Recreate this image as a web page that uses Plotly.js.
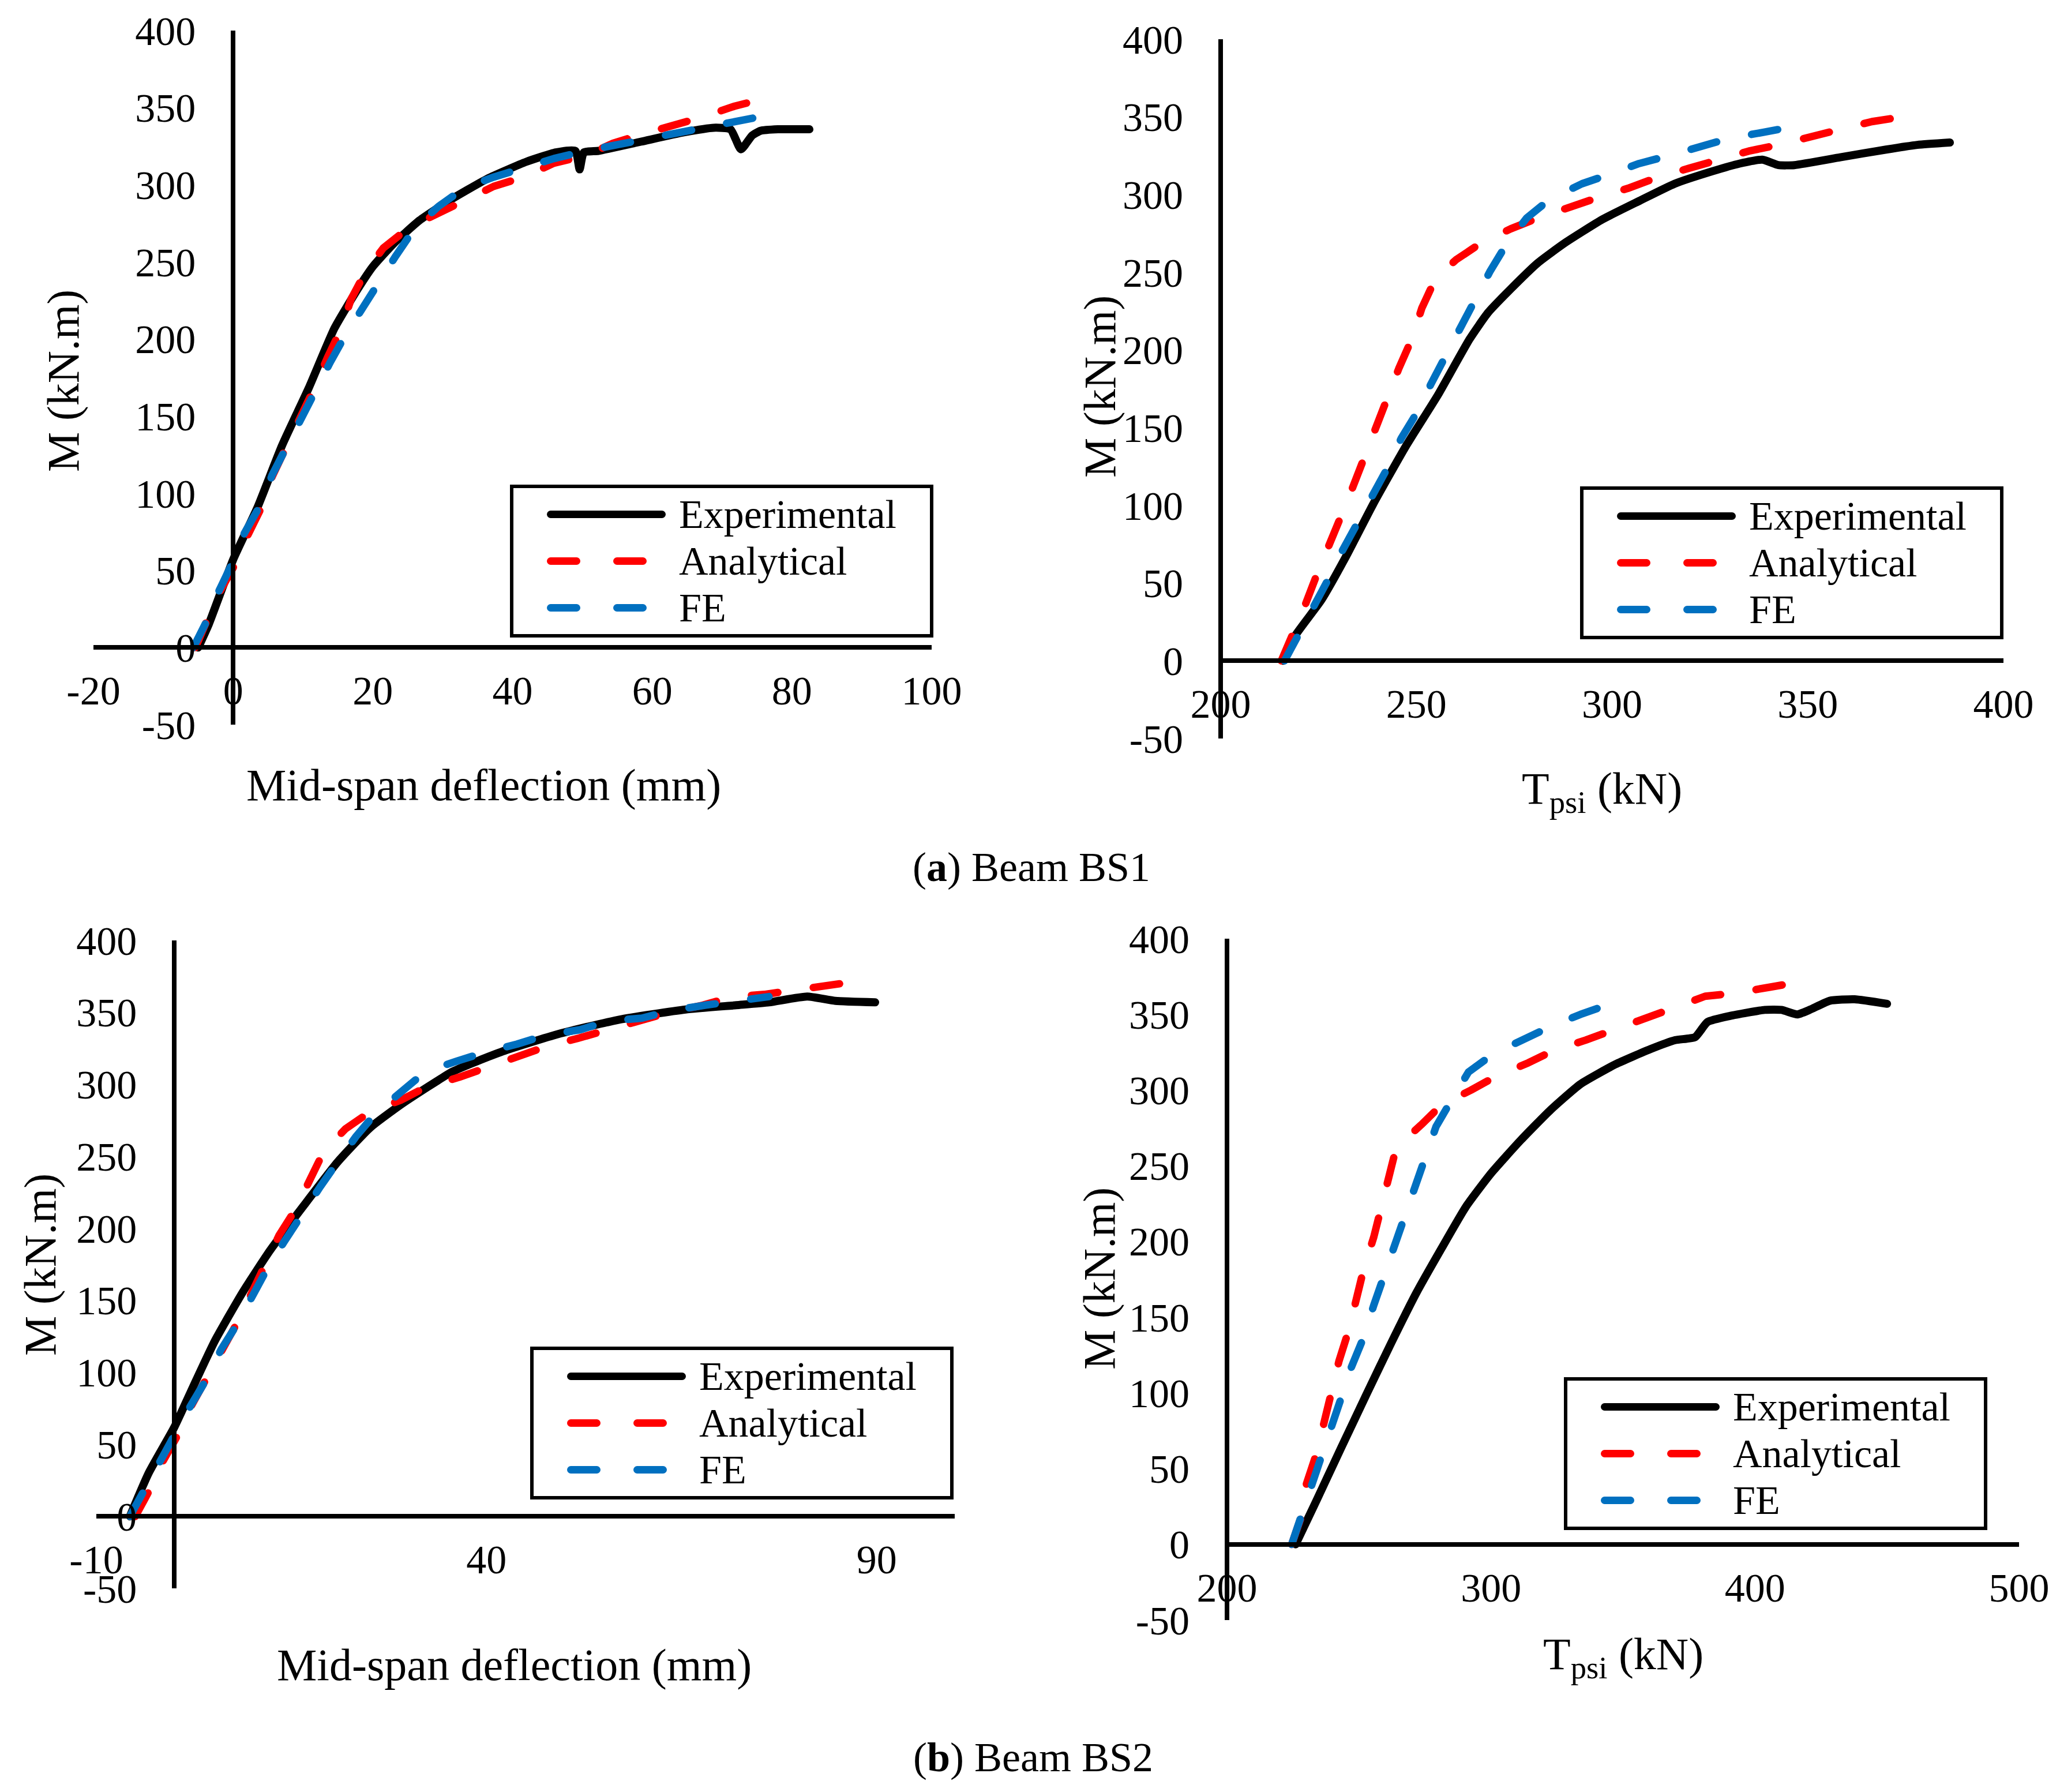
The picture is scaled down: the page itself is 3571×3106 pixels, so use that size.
<!DOCTYPE html>
<html>
<head>
<meta charset="utf-8">
<script src="https://cdn.plot.ly/plotly-3.0.1.min.js"></script>
<style>
  html, body { margin: 0; padding: 0; background: #fff; }
  #chart { width: 3571px; height: 3106px; }
  .js-line { stroke-linecap: round; stroke-linejoin: round; }
  /* legend samples: thick, inset from the box edge like the original */
  g[class^="legend"] .js-line {
    stroke-width: 13px !important;
    stroke-dasharray: 193px 2000px !important;
    stroke-dashoffset: -59.5px;
  }
  g[class^="legend"] .js-line[style*="dasharray"] {
    stroke-dasharray: 45px 70px 45px 2000px !important;
  }
  /* legend rows are spaced for 60px text; the text itself is 70px as in the figure */
  .legendtext, .legend2text, .legend3text, .legend4text { font-size: 70px !important; }
</style>
</head>
<body>
<div id="chart"></div>
<script>
// (a) Beam BS1 - moment vs mid-span deflection
const bs1DefExpX = [-5, -3.5, 0, 3.5, 7, 10.8, 14.5, 17.5, 20, 23, 26.7, 31, 36.4, 42, 46.2, 49, 49.6, 50.2, 52.3, 58.4, 64.5, 68.8, 71.2, 72.7, 74.3, 75.5, 78, 82.5];
const bs1DefExpY = [0, 15, 57, 91, 131, 168, 207, 230, 247, 262, 277, 290, 304, 315, 321, 322, 310, 321, 322, 328, 334, 337, 336, 323, 332, 335, 336, 336];
const bs1DefAnaX = [-5.4, -2.3, 0.4, 2, 4.4, 5.6, 7.7, 9.6, 11.7, 13.5, 15.4, 16.9, 19, 21.5, 25.1, 29.1, 33.4, 37.3, 41.6, 45.9, 50.5, 54.4, 58.7, 63, 67.2, 71.8, 76.1];
const bs1DefAnaY = [0, 33, 55, 72, 94, 111, 131, 148, 169, 188, 206, 226, 244, 259, 272, 281, 290, 299, 305, 314, 319, 327, 333, 338, 344, 351, 356];
const bs1DefFeX = [-5.7, -3.8, -2, -0.2, 1.6, 4.1, 5.6, 7.7, 9.6, 11.7, 13.9, 16, 18.4, 20.9, 23.3, 26, 29.4, 33.1, 37.3, 41.6, 45.9, 50.5, 55, 59.3, 64.2, 68.5, 73, 76.4];
const bs1DefFeY = [0, 17, 37, 54, 74, 94, 112, 131, 148, 167, 185, 202, 220, 237, 254, 272, 286, 298, 305, 311, 317, 322, 326, 331, 335, 338, 342, 345];

// (a) Beam BS1 - moment vs Tpsi
const bs1TpsExpX = [216, 219, 225.7, 232, 239, 247.3, 255.5, 263.6, 268.3, 274, 281, 288, 297.5, 307, 316, 325.6, 332.6, 338.4, 342.5, 346.6, 358.3, 370, 378, 386.3];
const bs1TpsExpY = [0, 16, 39, 67, 101, 138, 171, 207, 224, 239, 256, 269, 284, 296, 307, 315, 320, 322.5, 319, 319, 324, 329, 332, 333.5];
const bs1TpsAnaX = [215.5, 218.6, 221.6, 224.5, 227.4, 230.9, 233.8, 236.8, 239.7, 242.6, 245.5, 249, 251.4, 254.9, 260.1, 266.6, 274.1, 281.1, 288.7, 296.3, 304, 311.5, 319.7, 327.3, 334.9, 342.5, 351.2, 358.3, 366.4, 374];
const bs1TpsAnaY = [0, 17, 36, 55, 74, 94, 112, 132, 150, 170, 188, 208, 227, 246, 258, 269, 278, 285, 292, 298, 304, 311, 317, 323, 328, 332, 337, 342, 347, 350];
const bs1TpsFeX = [216.3, 219.8, 223.3, 227.4, 230.9, 235, 238.5, 242.6, 246.1, 250.2, 253.7, 257.8, 261.3, 264.8, 268.9, 273, 278.2, 284.1, 292.3, 299.3, 306.9, 314.4, 322.6, 329.6, 338.4, 344.8];
const bs1TpsFeY = [0, 16, 33, 52, 70, 89, 107, 124, 143, 160, 178, 198, 216, 233, 251, 268, 285, 297, 307, 313, 320, 325, 331, 336, 340, 343];

// (b) Beam BS2 - moment vs mid-span deflection
const bs2DefExpX = [-5.7, -3.3, 0, 2.4, 5.2, 8.8, 12.3, 16.6, 20.9, 25.1, 29.3, 35.7, 42.1, 49.2, 57, 65.5, 72, 76.2, 81.1, 84.7, 89.8];
const bs2DefExpY = [0, 30, 62, 90, 122, 156, 185, 216, 246, 270, 287, 309, 323, 335, 345, 352, 355, 357, 361, 358, 357];
const bs2DefAnaX = [-5, -3.3, -1.5, 0.6, 2.1, 4.2, 6, 8.1, 9.9, 11.6, 13.4, 15.5, 17.3, 19.1, 21.9, 25.1, 29, 32.2, 36.5, 40, 43.9, 47.5, 51.7, 55.6, 59.5, 63.4, 67.7, 71.6, 75.6, 79, 83.7, 86.7];
const bs2DefAnaY = [0, 17, 38, 58, 76, 96, 115, 135, 155, 175, 195, 213, 233, 253, 269, 281, 289, 298, 305, 312, 320, 326, 332, 338, 344, 350, 355, 361, 362.5, 365, 369, 371];
const bs2DefFeX = [-5.7, -4, -1.8, 0.3, 2.1, 4.2, 6, 8.1, 9.9, 12, 14.1, 16.2, 18.7, 20.9, 23.3, 25.8, 29, 32.2, 36.1, 39.6, 43.9, 47.5, 52, 55.6, 59.9, 63.4, 68, 71.6, 76.2];
const bs2DefFeY = [0, 17, 38, 58, 77, 96, 116, 134, 153, 173, 191, 209, 229, 246, 264, 280, 295, 309, 316, 322, 328, 334, 338, 344, 346, 351, 355, 358, 361];

// (b) Beam BS2 - moment vs Tpsi
const bs2TpsExpX = [226, 233.9, 243.3, 252.8, 262.2, 271.7, 281.1, 290.5, 300, 311.3, 322.6, 333.9, 347.1, 360.3, 369.8, 377.3, 382, 390.5, 403.7, 410, 416, 420.7, 428.3, 437.7, 450];
const bs2TpsExpY = [0, 29, 64, 99, 133, 166, 195, 223, 245, 267, 287, 304, 317, 327, 333, 335, 345, 349, 353, 353, 350, 353, 359, 360, 357];
const bs2TpsAnaX = [224.5, 228.3, 230.1, 233.9, 236.7, 239.6, 242.4, 246.2, 249, 251.8, 255.6, 258.4, 261.3, 264.1, 273.5, 281.1, 292.4, 301.8, 314.1, 323.5, 335.8, 346.2, 358.4, 368.8, 381.1, 392.4, 405.6, 412.2];
const bs2TpsAnaY = [0, 19, 40, 60, 80, 101, 121, 142, 162, 182, 203, 223, 242, 262, 277, 290, 300, 309, 318, 326, 333, 340, 348, 354, 362, 364, 368, 370];
const bs2TpsFeX = [224.5, 228.3, 232, 235.8, 239.6, 243.3, 247.1, 251.8, 255.6, 259.4, 263.2, 267, 270.7, 275.4, 279.2, 284.9, 291.5, 300.9, 312.2, 322.6, 333.9, 345.2];
const bs2TpsFeY = [0, 19, 39, 58, 77, 97, 117, 137, 158, 177, 198, 216, 236, 256, 276, 293, 312, 324, 334, 342, 350, 357];

// tick values (labels drawn with a plain hyphen like the original)
const momentTicks = [-50, 0, 50, 100, 150, 200, 250, 300, 350, 400];
const bs1DefTicks = [-20, 0, 20, 40, 60, 80, 100];
const bs1TpsTicks = [200, 250, 300, 350, 400];
const bs2DefTicks = [-10, 40, 90];
const bs2TpsTicks = [200, 300, 400, 500];

// trailing no-break spaces keep the legend box as wide as in the original
const seriesNames = ['Experimental\u00a0\u00a0\u00a0', 'Analytical', 'FE'];
const xTitleDef = 'Mid-span deflection (mm)';
const xTitleTps = 'T<sub>psi</sub> (kN)';
const yTitle = 'M (kN.m)';
const captions = ['(<b>a</b>) Beam BS1', '(<b>b</b>) Beam BS2'];

const W = 3571, H = 3106;
const FONT = '"Liberation Serif", "Times New Roman", serif';

// plot boxes in pixels, x/y ranges, where the axes cross
const panels = [
  { px: [162, 1615], py: [53, 1256], xr: [-20, 100], yr: [-50, 400], xcross: 0, ticks: bs1DefTicks,
    legend: [884, 840] },
  { px: [2116, 3473], py: [68, 1280], xr: [200, 400], yr: [-50, 400], xcross: 200, ticks: bs1TpsTicks,
    legend: [2739, 843] },
  { px: [167, 1655], py: [1630, 2753], xr: [-10, 100], yr: [-50, 400], xcross: 0, ticks: bs2DefTicks,
    legend: [919, 2334] },
  { px: [2127, 3500], py: [1627, 2808], xr: [200, 500], yr: [-50, 400], xcross: 200, ticks: bs2TpsTicks,
    legend: [2711, 2387] }
];

const data = [
  [bs1DefExpX, bs1DefExpY, bs1DefAnaX, bs1DefAnaY, bs1DefFeX, bs1DefFeY],
  [bs1TpsExpX, bs1TpsExpY, bs1TpsAnaX, bs1TpsAnaY, bs1TpsFeX, bs1TpsFeY],
  [bs2DefExpX, bs2DefExpY, bs2DefAnaX, bs2DefAnaY, bs2DefFeX, bs2DefFeY],
  [bs2TpsExpX, bs2TpsExpY, bs2TpsAnaX, bs2TpsAnaY, bs2TpsFeX, bs2TpsFeY]
];

const DASH = '46px,62px';
const traces = [];
const layout = {
  width: W, height: H,
  margin: { l: 0, r: 0, t: 0, b: 0 },
  paper_bgcolor: '#fff', plot_bgcolor: '#fff',
  font: { family: FONT, color: '#000', size: 70 },
  showlegend: true,
  annotations: []
};

panels.forEach((p, i) => {
  const n = i + 1;
  const sfx = n > 1 ? n : '';
  const xd = [p.px[0] / W, p.px[1] / W];
  const yd = [1 - p.py[1] / H, 1 - p.py[0] / H];
  const xpos = yd[0] + (0 - p.yr[0]) / (p.yr[1] - p.yr[0]) * (yd[1] - yd[0]);
  const ypos = xd[0] + (p.xcross - p.xr[0]) / (p.xr[1] - p.xr[0]) * (xd[1] - xd[0]);
  const common = {
    anchor: 'free', showline: true, linecolor: '#000', linewidth: 8,
    showgrid: false, zeroline: false, ticks: '', tickmode: 'array',
    tickfont: { family: FONT, size: 70, color: '#000' }, fixedrange: true
  };
  layout['xaxis' + sfx] = Object.assign({}, common, {
    domain: xd, range: p.xr, position: xpos,
    tickvals: p.ticks, ticktext: p.ticks.map(String),
    ticklabelstandoff: 11
  });
  layout['yaxis' + sfx] = Object.assign({}, common, {
    domain: yd, range: p.yr, position: ypos,
    tickvals: momentTicks, ticktext: momentTicks.map(String),
    ticklabelstandoff: 47
  });
  const legKey = 'legend' + sfx;
  layout[legKey] = {
    x: p.legend[0] / W, y: 1 - p.legend[1] / H, xanchor: 'left', yanchor: 'top',
    bgcolor: '#fff', bordercolor: '#000', borderwidth: 6,
    font: { family: FONT, size: 60, color: '#000' },
    itemwidth: 277, traceorder: 'normal'
  };
  const d = data[i];
  const styles = [
    { color: '#000000', width: 14, dash: 'solid', shape: 'spline' },
    { color: '#FF0000', width: 13, dash: DASH, shape: 'linear' },
    { color: '#0070C0', width: 13, dash: DASH, shape: 'linear' }
  ];
  styles.forEach((s, k) => {
    traces.push({
      type: 'scatter', mode: 'lines',
      x: d[k * 2], y: d[k * 2 + 1],
      name: seriesNames[k],
      xaxis: 'x' + sfx, yaxis: 'y' + sfx,
      legend: legKey,
      line: { color: s.color, width: s.width, dash: s.dash, shape: s.shape, smoothing: 0.5 },
      hoverinfo: 'skip'
    });
  });
});

// axis titles and captions placed as in the figure
const titlePos = [
  { xt: xTitleDef, x: [838, 1360], y: [109, 660] },
  { xt: xTitleTps, x: [2777, 1372], y: [1907, 670] },
  { xt: xTitleDef, x: [891, 2885], y: [69, 2192] },
  { xt: xTitleTps, x: [2814, 2872], y: [1905, 2216] }
];
titlePos.forEach(t => {
  layout.annotations.push({
    xref: 'paper', yref: 'paper', x: t.x[0] / W, y: 1 - t.x[1] / H,
    xanchor: 'center', yanchor: 'middle', showarrow: false, text: t.xt,
    font: { family: FONT, size: 78, color: '#000' }
  });
  layout.annotations.push({
    xref: 'paper', yref: 'paper', x: t.y[0] / W, y: 1 - t.y[1] / H,
    xanchor: 'center', yanchor: 'middle', showarrow: false, text: yTitle, textangle: -90,
    font: { family: FONT, size: 78, color: '#000' }
  });
});
[[1788, 1503], [1791, 3046]].forEach((c, i) => {
  layout.annotations.push({
    xref: 'paper', yref: 'paper', x: c[0] / W, y: 1 - c[1] / H,
    xanchor: 'center', yanchor: 'middle', showarrow: false, text: captions[i],
    font: { family: FONT, size: 72, color: '#000' }
  });
});

Plotly.newPlot('chart', traces, layout, { displayModeBar: false, staticPlot: true });
</script>
</body>
</html>
